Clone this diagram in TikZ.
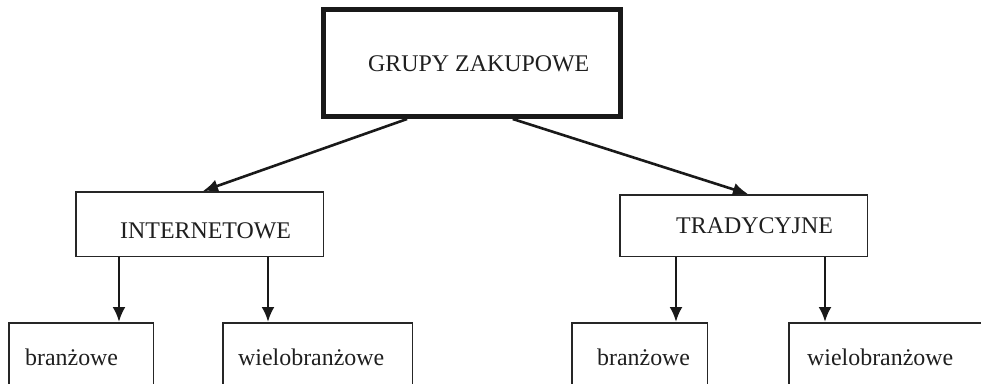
\documentclass[tikz,border=0pt]{standalone}
\usepackage{fontspec}
\setmainfont{Liberation Serif}
\usetikzlibrary{arrows.meta,calc}
\begin{document}
\begin{tikzpicture}[x=1pt,y=-1pt,
  box/.style={draw=black!85, line width=1.5pt, rectangle, inner sep=0pt},
  topbox/.style={draw=black!90, line width=5pt, rectangle, inner sep=0pt},
  lbl/.style={anchor=base west, inner sep=0pt, text=black!88, font=\fontsize{23.9}{28}\selectfont},
  arr/.style={line width=2.6pt, black!90, -{Latex[length=15pt,width=13pt]}}]
\clip (0,0) rectangle (981,383);
\fill[white] (0,0) rectangle (981,383);
% boxes
\node[topbox, minimum width=297pt, minimum height=107pt] (top) at (472,63) {};
\node[box, minimum width=247.5pt, minimum height=64.5pt] (int) at (199.5,224) {};
\node[box, minimum width=247.5pt, minimum height=61.5pt] (tra) at (743.5,225.5) {};
\node[box, minimum width=144.5pt, minimum height=100pt] (b1) at (81,372.75) {};
\node[box, minimum width=189.5pt, minimum height=100pt] (w1) at (317.5,372.75) {};
\node[box, minimum width=135.5pt, minimum height=100pt] (b2) at (639.5,372.75) {};
\node[box, minimum width=221pt, minimum height=100pt] (w2) at (899.5,372.75) {};
% labels
\node[lbl] (ltop) at (368,71) {GRUPY ZAKUPOWE};
\node[lbl] (lint) at (120,238) {INTERNETOWE};
\node[lbl] (ltra) at (676,233) {TRADYCYJNE};
\node[lbl] (lb1) at (25,365) {branżowe};
\node[lbl] (lw1) at (238,365) {wielobranżowe};
\node[lbl] (lb2) at (597,365) {branżowe};
\node[lbl] (lw2) at (807,365) {wielobranżowe};
% connectors
\draw[arr] ($(top.south west)!0.285!(top.south east)$) -- ($(int.north west)!0.514!(int.north east)$);
\draw[arr] ($(top.south west)!0.635!(top.south east)$) -- ($(tra.north west)!0.518!(tra.north east)$);
\draw[arr] (int.south -| 119,0) -- (b1.north -| 119,0);
\draw[arr] (int.south -| 268,0) -- (w1.north -| 268,0);
\draw[arr] (tra.south -| 676,0) -- (b2.north -| 676,0);
\draw[arr] (tra.south -| 825,0) -- (w2.north -| 825,0);
\end{tikzpicture}
\end{document}
